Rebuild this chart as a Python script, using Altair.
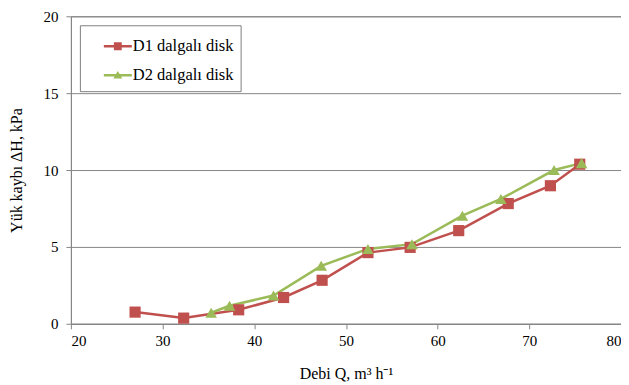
import altair as alt
import pandas as pd

series_names = ["D1 dalgalı disk", "D2 dalgalı disk"]
d1_q = [27.0, 32.3, 38.3, 43.2, 47.4, 52.4, 57.0, 62.3, 67.7, 72.3, 75.5]
d1_h = [0.76, 0.37, 0.91, 1.71, 2.83, 4.63, 4.97, 6.06, 7.82, 8.98, 10.38]
d2_q = [35.3, 37.3, 42.1, 47.3, 52.4, 57.2, 62.7, 66.9, 72.7, 75.7]
d2_h = [0.72, 1.17, 1.84, 3.77, 4.87, 5.18, 7.03, 8.12, 10.0, 10.45]

rows = []
for i, (q, h) in enumerate(zip(d1_q, d1_h)):
    rows.append({"series": series_names[0], "Q": q, "H": h, "o": i})
for i, (q, h) in enumerate(zip(d2_q, d2_h)):
    rows.append({"series": series_names[1], "Q": q, "H": h, "o": i})
df = pd.DataFrame(rows)

colors = ["#C0504D", "#9BBB59"]
font = "Liberation Serif, serif"

x = alt.X("Q:Q", scale=alt.Scale(domain=[20, 80], nice=False),
          axis=alt.Axis(values=[20, 30, 40, 50, 60, 70, 80], grid=False,
                        title="Debi Q, m³ h⁻¹", titlePadding=17))
y = alt.Y("H:Q", scale=alt.Scale(domain=[0, 20], nice=False),
          axis=alt.Axis(values=[0, 5, 10, 15, 20], grid=True,
                        title="Yük kaybı ΔH,  kPa", titlePadding=18))
cscale = alt.Scale(domain=series_names, range=colors)

sq_path = "M-1,-0.09 H1 V0.09 H-1 Z M-0.28,-0.28 H0.28 V0.28 H-0.28 Z"
tri_path = "M-1,-0.09 H1 V0.09 H-1 Z M0,-0.3 L0.32,0.24 L-0.32,0.24 Z"

leg = alt.Legend(title=None, orient="none", legendX=9, legendY=9,
                 symbolSize=784, symbolStrokeWidth=0, symbolOpacity=1,
                 labelFont=font, labelFontSize=16.5, labelColor="black",
                 labelOffset=1, rowPadding=6, padding=7, symbolOffset=17,
                 strokeColor="#808080", fillColor="white")
color_enc = alt.Color("series:N", scale=cscale, legend=leg)

lines = alt.Chart(df).mark_line(strokeWidth=2.5).encode(x=x, y=y, color=color_enc, order="o:Q")
pts1 = alt.Chart(df).transform_filter(alt.datum.series == series_names[0]).mark_point(
    filled=True, opacity=1, size=125, shape="square").encode(x=x, y=y, color=color_enc)
pts2 = alt.Chart(df).transform_filter(alt.datum.series == series_names[1]).mark_point(
    filled=True, opacity=1, size=135, shape="triangle-up").encode(x=x, y=y, color=color_enc)

ghost = alt.Chart(df).mark_point(filled=True, size=0).encode(
    x=x, y=y,
    color=color_enc,
    shape=alt.Shape("series:N", scale=alt.Scale(domain=series_names, range=[sq_path, tri_path]), legend=leg),
)

chart = alt.layer(lines, pts1, pts2, ghost).properties(
    width=551, height=308,
    autosize=alt.AutoSizeParams(type="none"),
    padding={"left": 63, "top": 8, "right": 0, "bottom": 61},
).configure(font=font).configure_view(stroke="#868686", strokeWidth=1).configure_axis(
    domainColor="#868686", tickColor="#868686", gridColor="#868686",
    tickSize=5, labelFont=font, labelFontSize=15, labelColor="black",
    titleFont=font, titleFontSize=16, titleFontWeight="normal", titleColor="black",
    labelPadding=6,
).configure_axisX(labelPadding=5).configure_axisY(labelPadding=8)

chart.save("out.html", embed_options={"renderer": "svg", "actions": False})
